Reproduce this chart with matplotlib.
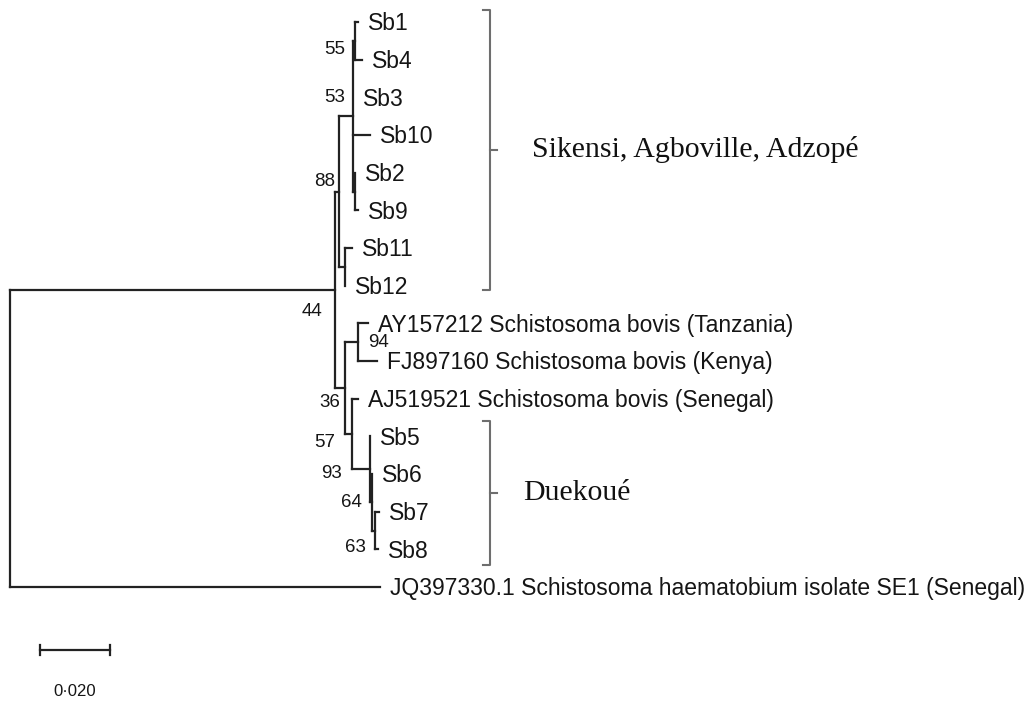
import matplotlib.pyplot as plt

# arbol filogenetico: nodo, padre y largo de rama (sustituciones por sitio)
nodo = ['raiz', 'n44', 'JQ', 'n88', 'n36', 'n53', 'n_sb11', 'n55', 'Sb3', 'Sb10',
        'n_sb2', 'Sb1', 'Sb4', 'Sb2', 'Sb9', 'Sb11', 'Sb12', 'n94', 'n57', 'AY',
        'FJ', 'AJ', 'n93', 'Sb5', 'n64', 'Sb6', 'n63', 'Sb7', 'Sb8']
padre = [None, 'raiz', 'raiz', 'n44', 'n44', 'n88', 'n88', 'n53', 'n53', 'n53',
         'n53', 'n55', 'n55', 'n_sb2', 'n_sb2', 'n_sb11', 'n_sb11', 'n36', 'n36', 'n94',
         'n94', 'n57', 'n57', 'n93', 'n93', 'n64', 'n64', 'n63', 'n63']
rama = [0.0, 0.0929, 0.1057, 0.0011, 0.0029, 0.0040, 0.0017, 0.0006, 0.0, 0.0049,
        0.0006, 0.0009, 0.0020, 0.0, 0.0009, 0.0020, 0.0, 0.0037, 0.0020, 0.0029,
        0.0054, 0.0017, 0.0051, 0.0, 0.0006, 0.0, 0.0009, 0.0009, 0.0006]

# nombres largos de las hojas
nombres = {'JQ': 'JQ397330.1 Schistosoma haematobium isolate SE1 (Senegal)',
           'AY': 'AY157212 Schistosoma bovis (Tanzania)',
           'FJ': 'FJ897160 Schistosoma bovis (Kenya)',
           'AJ': 'AJ519521 Schistosoma bovis (Senegal)'}

# valores de bootstrap
bootstrap = {'n55': 55, 'n53': 53, 'n88': 88, 'n44': 44, 'n94': 94,
             'n36': 36, 'n57': 57, 'n93': 93, 'n64': 64, 'n63': 63}

# grupos geograficos (primera y ultima hoja)
grupos = ['Sikensi, Agboville, Adzopé', 'Duekoué']
grupo_hojas = [('Sb1', 'Sb12'), ('Sb5', 'Sb8')]

escala = 0.020
escala_txt = '0·020'

# posicion de los textos de bootstrap (pixeles respecto del nodo)
pos_boot = {'n55': (-10, 7, 'right'), 'n53': (-8, -21, 'right'), 'n88': (-4, -12, 'right'),
            'n44': (-13, 20, 'right'), 'n94': (10, -2, 'left'), 'n36': (-5, 12, 'right'),
            'n57': (-17, 6, 'right'), 'n93': (-28, 2, 'right'), 'n64': (-10, -2, 'right'),
            'n63': (-10, 15, 'right')}
# corchetes: margen arriba/abajo (px) y x del texto (px respecto del corchete)
pos_grupo = [(12, 4, 42), (15, 16, 33)]

PX = 1 / 3500.0   # unidades por pixel en x
PY = 1 / 37.67    # hojas por pixel en y
col = '#222222'

# coordenadas
hijos = {n: [] for n in nodo}
x = {}
for n, p, r in zip(nodo, padre, rama):
    if p is None:
        x[n] = 0.0
    else:
        x[n] = x[p] + r
        hijos[p].append(n)

y = {}
cont = [0]


def asignar_y(n):
    if not hijos[n]:
        y[n] = cont[0]
        cont[0] += 1
    else:
        for h in hijos[n]:
            asignar_y(h)
        y[n] = (y[hijos[n][0]] + y[hijos[n][-1]]) / 2.0


asignar_y('raiz')

fig = plt.figure(figsize=(10.36, 7.05), dpi=100)
ax = fig.add_axes([0, 0, 1, 1])
ax.set_xlim(-10 * PX, 1026 * PX)
ax.set_ylim(683 * PY, -22 * PY)
ax.axis('off')

# ramas
for n, p in zip(nodo, padre):
    if p is not None:
        ax.plot([x[p], x[n]], [y[n], y[n]], color=col, lw=1.6, solid_capstyle='projecting')
    if hijos[n]:
        h = hijos[n]
        ax.plot([x[n], x[n]], [y[h[0]], y[h[-1]]], color=col, lw=1.6, solid_capstyle='projecting')

# etiquetas de hojas
for n in nodo:
    if not hijos[n]:
        ax.annotate(nombres.get(n, n), (x[n], y[n]), xytext=(7.2, -5.9),
                    textcoords='offset points', ha='left', va='baseline',
                    fontsize=16.5, family='Liberation Sans', color='#151515')

# bootstrap
for n, v in bootstrap.items():
    dx, dy, ha = pos_boot[n]
    ax.annotate(str(v), (x[n], y[n]), xytext=(dx * 0.72, -(dy + 6.5) * 0.72),
                textcoords='offset points', ha=ha, va='baseline',
                fontsize=13.5, family='Liberation Sans', color='#151515')

# corchetes de grupos
xb = 0.1371
for g, (a, b), (pt, pb, tx) in zip(grupos, grupo_hojas, pos_grupo):
    y0 = y[a] - pt * PY
    y1 = y[b] + pb * PY
    ax.plot([xb - 7 * PX, xb, xb, xb - 7 * PX], [y0, y0, y1, y1], color='#6e6e6e', lw=1.5)
    ym = (y0 + y1) / 2.0
    ax.plot([xb, xb + 7 * PX], [ym, ym], color='#6e6e6e', lw=1.5)
    ax.text(xb + tx * PX, ym, g, ha='left', va='center', fontsize=21.5,
            family='Liberation Serif', color='#111111')

# barra de escala
xs = 30 * PX
ys = 628 * PY
ax.plot([xs, xs + escala], [ys, ys], color=col, lw=1.6)
ax.plot([xs, xs], [ys - 5 * PY, ys + 5 * PY], color=col, lw=1.6)
ax.plot([xs + escala, xs + escala], [ys - 5 * PY, ys + 5 * PY], color=col, lw=1.6)
ax.text(xs + escala / 2, ys + 42 * PY, escala_txt, ha='center', va='center',
        fontsize=12, family=['Liberation Sans Narrow', 'Liberation Sans'], color='#151515')

fig.savefig('out.png', dpi=100)
